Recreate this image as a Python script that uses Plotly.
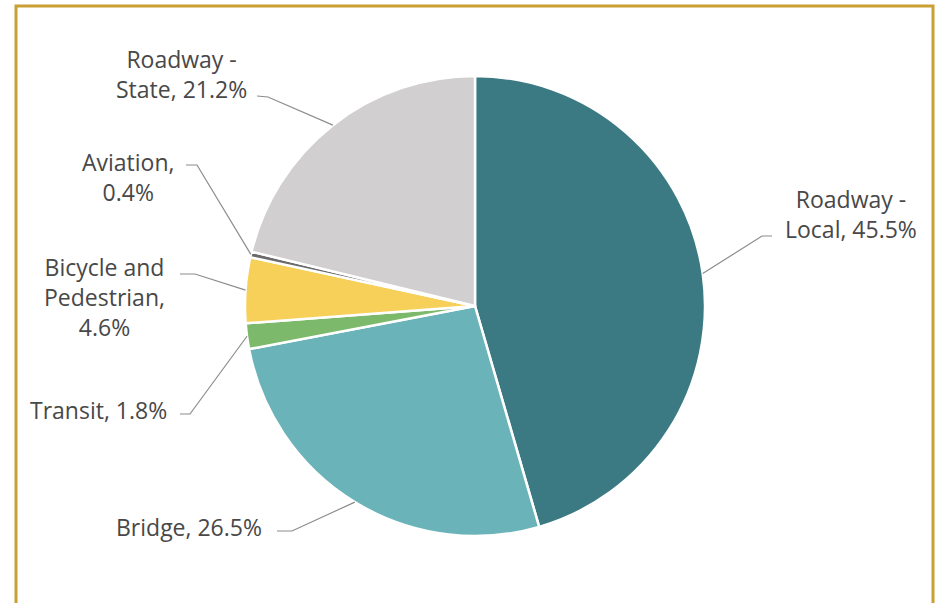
import math
import plotly.graph_objects as go

W, H = 938, 603

categories = ["Roadway - Local", "Bridge", "Transit", "Bicycle and Pedestrian", "Aviation", "Roadway - State"]
values = [45.5, 26.5, 1.8, 4.6, 0.4, 21.2]
label_texts = ["Roadway -<br>Local, 45.5%", "Bridge, 26.5%", "Transit, 1.8%",
               "Bicycle and<br>Pedestrian,<br>4.6%", "Aviation,<br>0.4%", "Roadway -<br>State, 21.2%"]
colors = ["#3B7A82", "#6AB3B9", "#7DB96B", "#F7D05A", "#6B6B6B", "#D1CFCF"]

# layout (pixels)
cx, cy, R = 475, 306, 230
label_pos = [(851, 214), (189, 527), (98, 410), (104, 297), (128, 177), (181, 74)]
elbows = [((772, 236), (762, 236)), ((277, 531), (292, 531)), ((180, 414), (190, 414)),
          ((180, 274), (195, 274)), ((186, 165), (197, 165)), ((257, 96), (268, 97))]


def px(x):
    return x / W


def py(y):
    return 1 - y / H


fig = go.Figure(go.Pie(
    labels=categories, values=values, sort=False, direction="clockwise", rotation=0,
    marker=dict(colors=colors, line=dict(color="white", width=2.5)),
    textinfo="none", hoverinfo="label+percent", showlegend=False,
    domain=dict(x=[px(cx - R), px(cx + R)], y=[py(cy + R), py(cy - R)]),
))

shapes = []
total = sum(values)
cum = 0
for i, v in enumerate(values):
    mid = (cum + v / 2) / total * 2 * math.pi
    cum += v
    ex = cx + R * math.sin(mid)
    ey = cy - R * math.cos(mid)
    (ax, ay), (bx, by) = elbows[i]
    path = f"M {px(ax)},{py(ay)} L {px(bx)},{py(by)} L {px(ex)},{py(ey)}"
    shapes.append(dict(type="path", path=path, xref="paper", yref="paper",
                       line=dict(color="#8C8C8C", width=1.2)))

shapes.append(dict(type="rect", xref="paper", yref="paper",
                   x0=px(16), x1=px(933), y0=py(6), y1=py(640),
                   line=dict(color="#C9A033", width=3)))

annotations = []
for t, (lx, ly) in zip(label_texts, label_pos):
    annotations.append(dict(text=t, x=px(lx), y=py(ly), xref="paper", yref="paper",
                            showarrow=False, xanchor="center", yanchor="middle",
                            align="center",
                            font=dict(family="Open Sans", size=23, color="#484848")))

fig.update_layout(
    width=W, height=H, margin=dict(l=0, r=0, t=0, b=0),
    paper_bgcolor="white", plot_bgcolor="white",
    shapes=shapes, annotations=annotations,
)

fig.write_html("out.html")
